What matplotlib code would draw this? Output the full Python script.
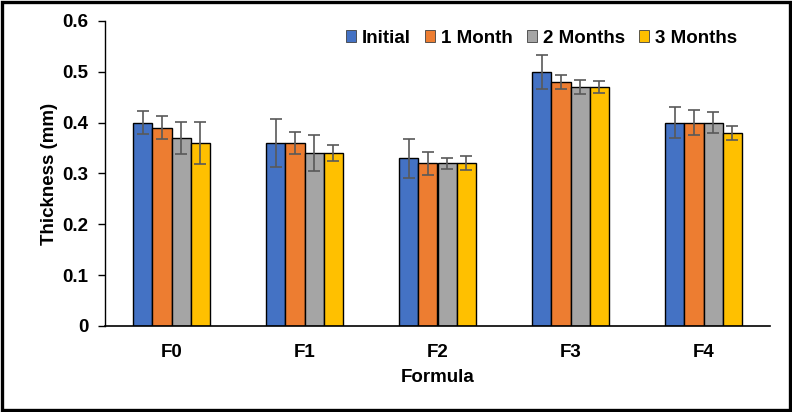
import matplotlib.pyplot as plt
import numpy as np
from matplotlib.patches import Rectangle

plt.rcParams['font.family'] = ['Liberation Sans', 'DejaVu Sans']
plt.rcParams['font.weight'] = 'bold'
plt.rcParams['axes.labelweight'] = 'bold'
plt.rcParams['font.size'] = 13.5

formulas = ["F0", "F1", "F2", "F3", "F4"]
series = ["Initial", "1 Month", "2 Months", "3 Months"]
colors = ["#4472C4", "#ED7D31", "#A5A5A5", "#FFC000"]

initial = [0.40, 0.36, 0.33, 0.50, 0.40]
month1 = [0.39, 0.36, 0.32, 0.48, 0.40]
month2 = [0.37, 0.34, 0.32, 0.47, 0.40]
month3 = [0.36, 0.34, 0.32, 0.47, 0.38]

err_initial = [0.022, 0.047, 0.038, 0.033, 0.031]
err_month1 = [0.023, 0.022, 0.022, 0.013, 0.024]
err_month2 = [0.031, 0.036, 0.011, 0.014, 0.021]
err_month3 = [0.041, 0.016, 0.014, 0.012, 0.014]

values = [initial, month1, month2, month3]
errors = [err_initial, err_month1, err_month2, err_month3]

fig = plt.figure(figsize=(7.92, 4.12), dpi=100)
ax = fig.add_axes([105 / 792, 1 - 326 / 412, 665 / 792, 305 / 412])

x = np.arange(len(formulas))
w = 0.143
for i, (vals, errs) in enumerate(zip(values, errors)):
    ax.bar(x + (i - 1.5) * w, vals, w, color=colors[i], edgecolor="black",
           linewidth=1, label=series[i], zorder=2,
           yerr=errs, error_kw=dict(ecolor="#595959", elinewidth=1.2,
                                    capsize=4, capthick=1.2, zorder=3))

ax.set_xlim(-0.5, len(formulas) - 0.5)
ax.set_ylim(0, 0.6)
ax.set_yticks(np.arange(0, 0.61, 0.1))
ax.set_yticklabels(["0", "0.1", "0.2", "0.3", "0.4", "0.5", "0.6"])
ax.set_xticks(x)
ax.set_xticklabels(formulas)
ax.tick_params(axis="x", length=0, pad=13)
ax.tick_params(axis="y", length=5, width=1, pad=7)
for s in ["top", "right"]:
    ax.spines[s].set_visible(False)
ax.spines["left"].set_linewidth(1)
ax.spines["bottom"].set_linewidth(1.2)

ax.set_ylabel("Thickness (mm)", labelpad=3)
ax.set_xlabel("Formula", labelpad=6)

leg = ax.legend(loc="upper right", ncol=4, frameon=False, bbox_to_anchor=(0.97, 1.015),
                handlelength=0.55, handleheight=0.55, handletextpad=0.3,
                columnspacing=0.75, borderaxespad=0.3)
for h in leg.legend_handles:
    h.set_edgecolor("#404040")
    h.set_linewidth(0.6)

fig.patches.append(Rectangle((0.003, 0.004), 0.994, 0.992, transform=fig.transFigure,
                             fill=False, edgecolor="black", linewidth=2.4))

fig.savefig("out.png", dpi=100)
